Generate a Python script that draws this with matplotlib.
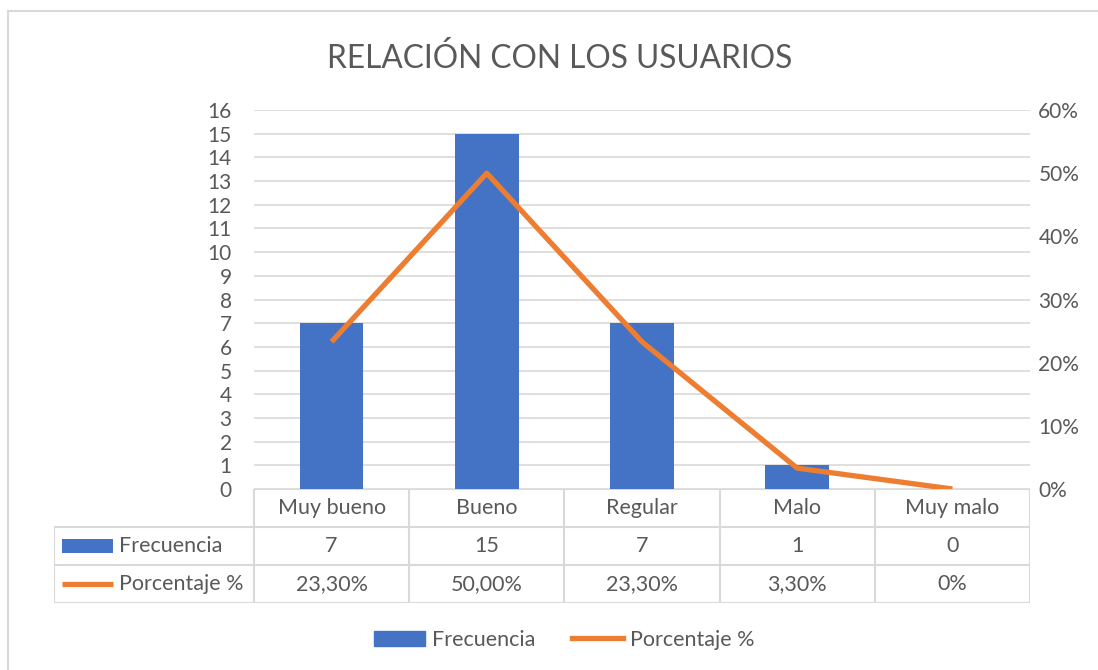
import matplotlib
matplotlib.use('Agg')
import matplotlib.pyplot as plt
from matplotlib.lines import Line2D
from matplotlib.patches import Rectangle

categorias = ['Muy bueno', 'Bueno', 'Regular', 'Malo', 'Muy malo']
frecuencia = [7, 15, 7, 1, 0]
porcentaje = [23.3, 50.0, 23.3, 3.3, 0.0]
etiquetas_pct = ['23,30%', '50,00%', '23,30%', '3,30%', '0%']
ticks_izq = list(range(0, 17))
ticks_der = [0, 10, 20, 30, 40, 50, 60]

AZUL = '#4472C4'
NARANJA = '#ED7D31'
GRIS = '#595959'
LINEA = '#d9d9d9'
FS = 15.5

plt.rcParams['font.family'] = ['Lato', 'DejaVu Sans']

W, H = 1098, 670
fig = plt.figure(figsize=(W / 100, H / 100), dpi=100)


def caja(x0, y0, x1, y1):
    # caja en pixeles (desde arriba a la izquierda) -> fracciones de la figura
    return [x0 / W, 1 - y1 / H, (x1 - x0) / W, (y1 - y0) / H]


# borde exterior del grafico
fig.patches.append(Rectangle((8 / W, -0.05), 1.1, 1 - 11 / H + 0.05, transform=fig.transFigure,
                             fill=False, edgecolor=LINEA, linewidth=1.5))

x = list(range(len(categorias)))

ax = fig.add_axes(caja(254, 110, 1030, 489))
ax.bar(x, frecuencia, width=0.41, color=AZUL, zorder=2)
ax.set_xlim(-0.5, len(categorias) - 0.5)
ax.set_ylim(0, 16)
ax.set_yticks(ticks_izq)
ax.set_xticks([])
ax.grid(axis='y', color=LINEA, linewidth=1.2, zorder=0)
for s in ax.spines.values():
    s.set_visible(False)
ax.tick_params(axis='y', length=0, pad=16, labelsize=15, labelcolor=GRIS)

ax2 = ax.twinx()
ax2.plot(x, porcentaje, color=NARANJA, linewidth=3.8, solid_capstyle='butt', zorder=3)
ax2.set_ylim(0, 60)
ax2.set_yticks(ticks_der)
ax2.set_yticklabels([f'{t}%' for t in ticks_der])
for s in ax2.spines.values():
    s.set_visible(False)
ax2.tick_params(axis='y', length=0, pad=6, labelsize=15, labelcolor=GRIS)

# titulo
fig.text(560 / W, 1 - 59 / H, 'RELACIÓN CON LOS USUARIOS', ha='center', va='center',
         fontsize=22.8, color=GRIS)

# tabla de datos
col_px = 776 / len(categorias)
izq = -0.5 - 200 / col_px
at = fig.add_axes(caja(54, 489, 1030, 603))
at.set_xlim(izq, len(categorias) - 0.5)
at.set_ylim(3, 0)
at.axis('off')
lk = dict(color=LINEA, linewidth=1.5, solid_capstyle='projecting')
at.plot([-0.5, len(categorias) - 0.5], [0, 0], **lk)
for r in [1, 2, 3]:
    at.plot([izq, len(categorias) - 0.5], [r, r], **lk)
for c in range(len(categorias) + 1):
    at.plot([c - 0.5, c - 0.5], [0, 3], **lk)
at.plot([izq, izq], [1, 3], **lk)

for i, cat in enumerate(categorias):
    at.text(i, 0.5, cat, ha='center', va='center', fontsize=FS, color=GRIS)
    at.text(i, 1.5, str(frecuencia[i]), ha='center', va='center', fontsize=FS, color=GRIS)
    at.text(i, 2.5, etiquetas_pct[i], ha='center', va='center', fontsize=FS, color=GRIS)

k0 = izq + 8 / col_px
k1 = izq + 59 / col_px
at.add_patch(Rectangle((k0, 1.5 - 0.18), k1 - k0, 0.36, color=AZUL, linewidth=0))
at.plot([k0, k1], [2.5, 2.5], color=NARANJA, linewidth=3.8, solid_capstyle='butt')
at.text(izq + 65 / col_px, 1.5, 'Frecuencia', ha='left', va='center', fontsize=FS, color=GRIS)
at.text(izq + 65 / col_px, 2.5, 'Porcentaje %', ha='left', va='center', fontsize=FS, color=GRIS)

# leyenda inferior
handles = [Rectangle((0, 0), 1, 1, color=AZUL),
           Line2D([], [], color=NARANJA, linewidth=3.8)]
fig.legend(handles, ['Frecuencia', 'Porcentaje %'], loc='center', ncol=2,
           bbox_to_anchor=(564 / W, 1 - 640 / H), frameon=False, fontsize=FS,
           labelcolor=GRIS, handlelength=2.4, handletextpad=0.3, columnspacing=1.7)

fig.savefig('out.png', dpi=100)
